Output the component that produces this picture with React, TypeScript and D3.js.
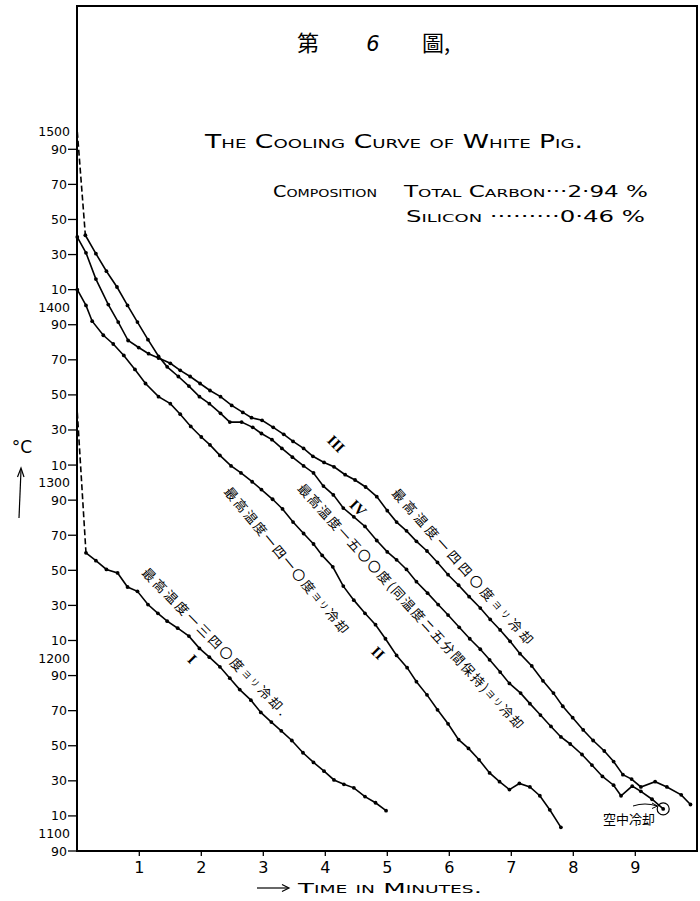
import React from "react";
import * as d3 from "d3";

type Pt = [number, number]; // [minutes, °C]

// curve I : max 1340 °C
const curveIDash: Pt[] = [[0, 1340], [0.14, 1260]];
const curveI: Pt[] = [
  [0.14, 1260], [0.30, 1255.5], [0.47, 1250.5], [0.65, 1248.5], [0.81, 1240.5], [0.97, 1238],
  [1.14, 1230.5], [1.30, 1225.5], [1.45, 1221], [1.62, 1217], [1.80, 1212.5], [1.97, 1205.5],
  [2.13, 1200.5], [2.30, 1195], [2.46, 1188.5], [2.62, 1182], [2.80, 1176], [2.96, 1169],
  [3.13, 1163.5], [3.29, 1158.5], [3.46, 1153], [3.64, 1146], [3.81, 1140.5], [3.98, 1135.5],
  [4.14, 1130.5], [4.30, 1128], [4.46, 1126], [4.64, 1121], [4.81, 1117.5], [4.98, 1113],
];

// curve II : max 1410 °C
const curveII: Pt[] = [
  [0, 1410], [0.14, 1401], [0.24, 1392], [0.42, 1384], [0.58, 1379], [0.75, 1372.5],
  [0.93, 1364.5], [1.10, 1356.5], [1.31, 1349], [1.50, 1345], [1.66, 1339], [1.83, 1332],
  [2.00, 1326], [2.14, 1321.5], [2.30, 1315.5], [2.48, 1309.5], [2.64, 1305.5], [2.82, 1300.5],
  [2.97, 1296], [3.15, 1290.5], [3.31, 1285], [3.48, 1277.5], [3.65, 1271], [3.81, 1265],
  [3.95, 1258.5], [4.12, 1252], [4.29, 1241], [4.46, 1233], [4.64, 1225.5], [4.81, 1219],
  [4.97, 1211], [5.15, 1201.5], [5.32, 1194.5], [5.47, 1186.5], [5.64, 1179], [5.81, 1170.5],
  [5.98, 1162.5], [6.15, 1153.5], [6.31, 1148.5], [6.48, 1142], [6.65, 1134.5], [6.81, 1129.5],
  [6.97, 1125], [7.13, 1128.5], [7.30, 1126.5], [7.46, 1121.5], [7.62, 1113.5], [7.80, 1103.5],
];

// curve III : max 1440 °C
const curveIII: Pt[] = [
  [0, 1440], [0.14, 1431], [0.30, 1416], [0.50, 1401.5], [0.66, 1391.5], [0.82, 1381],
  [0.99, 1377], [1.15, 1373.5], [1.31, 1371], [1.50, 1368], [1.66, 1364], [1.82, 1360.5],
  [1.98, 1356.5], [2.14, 1352.5], [2.31, 1349], [2.49, 1344], [2.67, 1340], [2.81, 1337],
  [2.98, 1335.5], [3.16, 1331.5], [3.33, 1327.5], [3.48, 1323.5], [3.65, 1319.5], [3.80, 1315],
  [3.98, 1311.5], [4.14, 1309], [4.32, 1304.5], [4.48, 1301.5], [4.65, 1297.5], [4.83, 1292],
  [5.00, 1284], [5.15, 1277.5], [5.31, 1272.5], [5.47, 1266.5], [5.64, 1261], [5.81, 1254.5],
  [5.98, 1247.5], [6.15, 1241.5], [6.32, 1235], [6.50, 1228.5], [6.66, 1222], [6.82, 1216],
  [6.98, 1209.5], [7.14, 1202.5], [7.33, 1195.5], [7.51, 1187], [7.68, 1180], [7.83, 1172.5],
  [7.99, 1166], [8.16, 1159], [8.32, 1153], [8.50, 1147], [8.65, 1141], [8.80, 1133.5],
  [8.94, 1131], [9.09, 1126.5], [9.32, 1129.5], [9.51, 1126.5], [9.74, 1122], [9.89, 1116.5],
];

// curve IV : max 1500 °C held 5 min
const curveIVDash: Pt[] = [[0, 1500], [0.13, 1441]];
const curveIV: Pt[] = [
  [0.13, 1441], [0.30, 1430.5], [0.47, 1420.5], [0.64, 1411.5], [0.81, 1401], [0.97, 1391.5],
  [1.14, 1381.5], [1.31, 1372], [1.45, 1366], [1.63, 1360.5], [1.80, 1355], [1.97, 1349],
  [2.13, 1345], [2.31, 1339.5], [2.46, 1334.5], [2.65, 1334.5], [2.83, 1331.5], [2.97, 1328],
  [3.14, 1324.5], [3.30, 1319.5], [3.47, 1314.5], [3.65, 1309.5], [3.81, 1305.5], [3.97, 1298],
  [4.13, 1293], [4.29, 1285.5], [4.46, 1280.5], [4.64, 1275], [4.83, 1267], [5.00, 1260.5],
  [5.15, 1256], [5.31, 1250.5], [5.47, 1243.5], [5.65, 1237], [5.82, 1230.5], [5.98, 1224.5],
  [6.16, 1217.5], [6.33, 1211], [6.50, 1205], [6.65, 1199], [6.82, 1192], [6.97, 1185.5],
  [7.15, 1180], [7.30, 1174], [7.47, 1167.5], [7.64, 1161], [7.80, 1155], [7.95, 1151],
  [8.14, 1145], [8.30, 1139], [8.47, 1132.5], [8.65, 1127.5], [8.77, 1121.5], [8.95, 1127],
  [9.09, 1124], [9.27, 1119.5], [9.45, 1114],
];

const minuteTicks = [1, 2, 3, 4, 5, 6, 7, 8, 9];
const tempTicks = [1490, 1470, 1450, 1430, 1410, 1390, 1370, 1350, 1330, 1310, 1290,
  1270, 1250, 1230, 1210, 1190, 1170, 1150, 1130, 1110, 1090];
const hundredLabels = [1500, 1400, 1300, 1200, 1100];

const x = d3.scaleLinear().domain([0, 10]).range([77.3, 697.3]);
const y = d3.scaleLinear().domain([1090, 1490]).range([851, 149.3]);
const line = d3.line<Pt>().x(d => x(d[0])).y(d => y(d[1]));

const NUM = "'DejaVu Sans', sans-serif";
const JP = "'Noto Sans CJK JP', sans-serif";
const CAPS = "'DejaVu Sans', sans-serif";

function Slanted({ cx, cy, angle, len, size, children }: any) {
  return (
    <text
      transform={`translate(${cx},${cy}) rotate(${angle})`}
      textAnchor="middle"
      dominantBaseline="central"
      fontFamily={JP}
      fontSize={size}
      textLength={len}
      lengthAdjust="spacing"
    >
      {children}
    </text>
  );
}

function Numeral({ cx, cy, text }: any) {
  return (
    <text
      transform={`translate(${cx},${cy}) rotate(45)`}
      textAnchor="middle"
      dominantBaseline="central"
      fontFamily="'Liberation Serif', serif"
      fontWeight="bold"
      fontSize={15}
    >
      {text}
    </text>
  );
}

export default function App() {
  const solid = [curveI, curveII, curveIII, curveIV];
  const small = { fontSize: 9 };
  return (
    <svg width={700} height={901} style={{ position: "absolute", left: 0, top: 0, background: "#fff" }}>
      {/* frame */}
      <rect x={77} y={6} width={620} height={845} fill="none" stroke="#000" strokeWidth={2} />

      {/* headings */}
      <text x={308} y={51} fontFamily={JP} fontSize={22} textAnchor="middle">第</text>
      <text x={373} y={51} fontFamily={NUM} fontSize={21} textAnchor="middle" fontStyle="italic">6</text>
      <text x={436} y={51} fontFamily={JP} fontSize={22} textAnchor="middle">圖,</text>

      <text x={205} y={148} fontFamily={CAPS} fontSize={19} style={{ fontVariant: "small-caps" }}
        textLength={378} lengthAdjust="spacingAndGlyphs">The Cooling Curve of White Pig.</text>
      <text x={273} y={197} fontFamily={CAPS} fontSize={15} style={{ fontVariant: "small-caps" }}
        textLength={104} lengthAdjust="spacingAndGlyphs">Composition</text>
      <text x={404} y={197} fontFamily={CAPS} fontSize={15} style={{ fontVariant: "small-caps" }}
        textLength={244} lengthAdjust="spacingAndGlyphs">Total Carbon···2·94 %</text>
      <text x={406} y={222} fontFamily={CAPS} fontSize={15} style={{ fontVariant: "small-caps" }}
        textLength={239} lengthAdjust="spacingAndGlyphs">Silicon ·········0·46 %</text>

      {/* y axis */}
      {tempTicks.map(t => (
        <g key={t}>
          <line x1={68} x2={77} y1={y(t)} y2={y(t)} stroke="#000" strokeWidth={1.3} />
          <text x={67} y={y(t)} textAnchor="end" dominantBaseline="central" fontFamily={NUM} fontSize={12.5}>
            {String(t % 100).padStart(2, "0")}
          </text>
        </g>
      ))}
      {hundredLabels.map(t => (
        <text key={t} x={70} y={y(t)} textAnchor="end" dominantBaseline="central" fontFamily={NUM} fontSize={12.5}>
          {t}
        </text>
      ))}
      <text x={22} y={453} textAnchor="middle" fontFamily={NUM} fontSize={17}>°C</text>
      <line x1={19} y1={518} x2={21} y2={470} stroke="#000" strokeWidth={1.2} />
      <path d="M17.5,477 L21,468 L24,477" fill="none" stroke="#000" strokeWidth={1.2} />

      {/* x axis */}
      {minuteTicks.map(m => (
        <g key={m}>
          <line x1={x(m)} x2={x(m)} y1={851} y2={856} stroke="#000" strokeWidth={1.3} />
          <text x={x(m)} y={873} textAnchor="middle" fontFamily={NUM} fontSize={16}>{m}</text>
        </g>
      ))}
      <line x1={257} x2={288} y1={888} y2={888} stroke="#000" strokeWidth={1.2} />
      <path d="M282,884.5 L289,888 L282,891.5" fill="none" stroke="#000" strokeWidth={1.2} />
      <text x={298} y={893} fontFamily={CAPS} fontSize={14} style={{ fontVariant: "small-caps" }}
        textLength={184} lengthAdjust="spacingAndGlyphs">Time in Minutes.</text>

      {/* curves */}
      {[curveIDash, curveIVDash].map((c, i) => (
        <path key={"d" + i} d={line(c) || ""} fill="none" stroke="#000" strokeWidth={1.6} strokeDasharray="6 3" />
      ))}
      {solid.map((c, i) => (
        <g key={i}>
          <path d={line(c) || ""} fill="none" stroke="#000" strokeWidth={1.6} />
          {c.map((p, j) => (
            <circle key={j} cx={x(p[0])} cy={y(p[1])} r={1.9} fill="#000" />
          ))}
        </g>
      ))}
      <circle cx={x(9.45)} cy={y(1114)} r={6} fill="none" stroke="#000" strokeWidth={1.2} />

      {/* curve labels */}
      <Numeral cx={192} cy={659} text="I" />
      <Numeral cx={378} cy={653} text="II" />
      <Numeral cx={336} cy={444} text="III" />
      <Numeral cx={358} cy={508} text="IV" />

      <Slanted cx={215} cy={641} angle={45.6} len={200} size={13}>
        最高温度一三四〇度<tspan style={small}>ヨリ</tspan>冷却.
      </Slanted>
      <Slanted cx={287} cy={560} angle={50.3} len={186} size={13}>
        最高温度一四一〇度<tspan style={small}>ヨリ</tspan>冷却
      </Slanted>
      <Slanted cx={463} cy={566} angle={48.2} len={204} size={13}>
        最高温度一四四〇度<tspan style={small}>ヨリ</tspan>冷却
      </Slanted>
      <Slanted cx={411} cy={606} angle={47.6} len={327} size={13}>
        最高温度一五〇〇度(同温度ニ五分間保持)<tspan style={small}>ヨリ</tspan>冷却
      </Slanted>

      {/* air cooling note */}
      <text x={629} y={824} textAnchor="middle" fontFamily={JP} fontSize={13}>空中冷却</text>
      <path d="M633,806 Q645,802 657,806" fill="none" stroke="#000" strokeWidth={1} />
      <path d="M652,803 L657.5,806 L652,808.5" fill="none" stroke="#000" strokeWidth={1} />
    </svg>
  );
}
